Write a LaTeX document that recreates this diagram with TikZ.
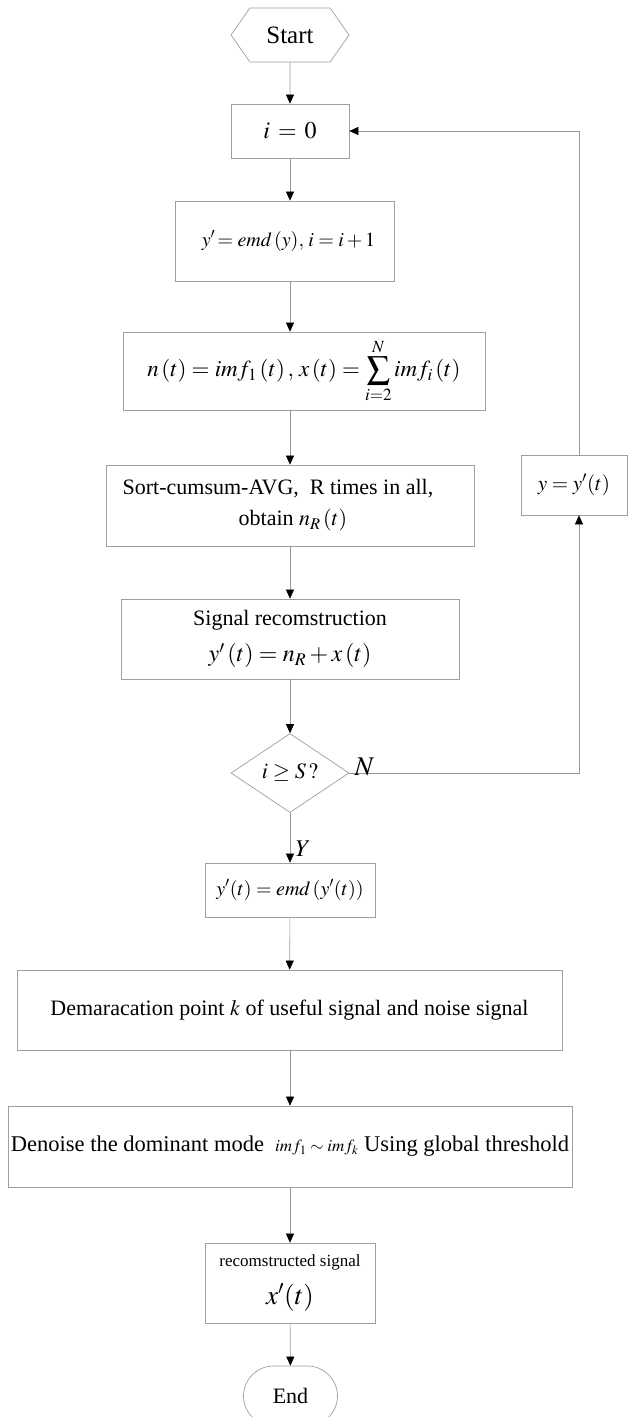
\documentclass[tikz,border=0pt]{standalone}
\usepackage{mathptmx}
\usepackage{fontspec}
\setmainfont{Liberation Serif}
\usetikzlibrary{arrows.meta,shapes.geometric,shapes.misc,shapes.symbols}

\tikzset{
  box/.style={draw=gray!75, line width=0.7pt, rectangle, inner sep=0pt, align=center},
  flow/.style={draw=gray!80, line width=0.6pt, -{Triangle[black,length=9pt,width=8pt]}},
  fs/.style={font=\fontsize{#1}{#1}\selectfont}
}

\begin{document}
\begin{tikzpicture}[x=1pt,y=-1pt]
  \useasboundingbox (0,0) rectangle (627,1417);

  \node[box, shape=signal, signal to=west and east, signal pointer angle=110,
        minimum width=118, minimum height=54, fs=25] (start) at (290,35) {Start};
  \node[box, minimum width=118, minimum height=54, fs=24] (init) at (290,131) {$i\,=\,0$};
  \node[box, minimum width=219, minimum height=80, fs=20] (emd) at (284.5,241) {\hspace*{8pt}$y'\!=emd\,(y),\,i=i+1$};
  \node[box, minimum width=362, minimum height=78, fs=23] (split) at (304,371)
        {$n\left(t\right)=imf_{1}\left(t\right),\,x\left(t\right)=\displaystyle\sum_{i=2}^{N}imf_{i}\left(t\right)$};
  \node[box, minimum width=368, minimum height=81, fs=22, align=left] (sort) at (290,505.5)
        {Sort-cumsum-AVG,\ \ R times in all,\hspace*{24pt}\\[9pt] \hspace*{116pt}obtain $n_{R}\left(t\right)$};
  \node[box, minimum width=338, minimum height=80, fs=22] (recon) at (290,639)
        {Signal recomstruction\\[12pt] {\fontsize{24}{24}\selectfont$y'\left(t\right)=n_{R}+x\left(t\right)$}};
  \node[box, shape=diamond, minimum width=118, minimum height=79, fs=22] (check) at (290,773) {$i\geq S\,?$};
  \node[box, minimum width=170, minimum height=54, fs=20] (emdy) at (290,890) {$y'(t)=emd\,(y'(t))$};
  \node[box, minimum width=545, minimum height=80, fs=22] (demarc) at (289.5,1010)
        {Demaracation point $k$ of useful signal and noise signal};
  \node[box, minimum width=564, minimum height=81, fs=22.5] (denoise) at (290,1146.5)
        {Denoise the dominant mode \ {\fontsize{17}{17}\selectfont$imf_{1}\sim imf_{k}$} Using global threshold};
  \node[box, minimum width=170, minimum height=80] (recsig) at (290,1283)
        {{\fontsize{17}{17}\selectfont recomstructed signal}\\[12pt] {\fontsize{27}{27}\selectfont$x'(t)$}};
  \node[box, shape=rounded rectangle, minimum width=94, minimum height=60, fs=22] (end) at (290.5,1396) {End};
  \node[box, minimum width=106, minimum height=60, fs=21] (update) at (574,485) {$y=y'(t)$};

  \coordinate (back) at (579,131);

  \draw[flow] (start) -- (init);
  \draw[flow] (init) -- (init |- emd.north);
  \draw[flow] (init |- emd.south) -- (init |- split.north);
  \draw[flow] (init |- split.south) -- (sort);
  \draw[flow] (sort) -- (recon);
  \draw[flow] (recon) -- (check);
  \draw[flow] (check) -- node[pos=0.72, right, xshift=2pt, fs=24] {$Y$} (emdy);
  \draw[flow] (emdy) -- (demarc);
  \draw[flow] (init |- demarc.south) -- (init |- denoise.north);
  \draw[flow] (denoise) -- (recsig);
  \draw[flow] (recsig) -- (end);
  \draw[flow] (check.east) -| (update.south -| back);
  \draw[flow] (update.north -| back) |- (init.east);
  \node[fs=27, anchor=south west, inner sep=1pt] (no) at ([xshift=4pt,yshift=-4pt]check.east) {$N$};
\end{tikzpicture}
\end{document}
